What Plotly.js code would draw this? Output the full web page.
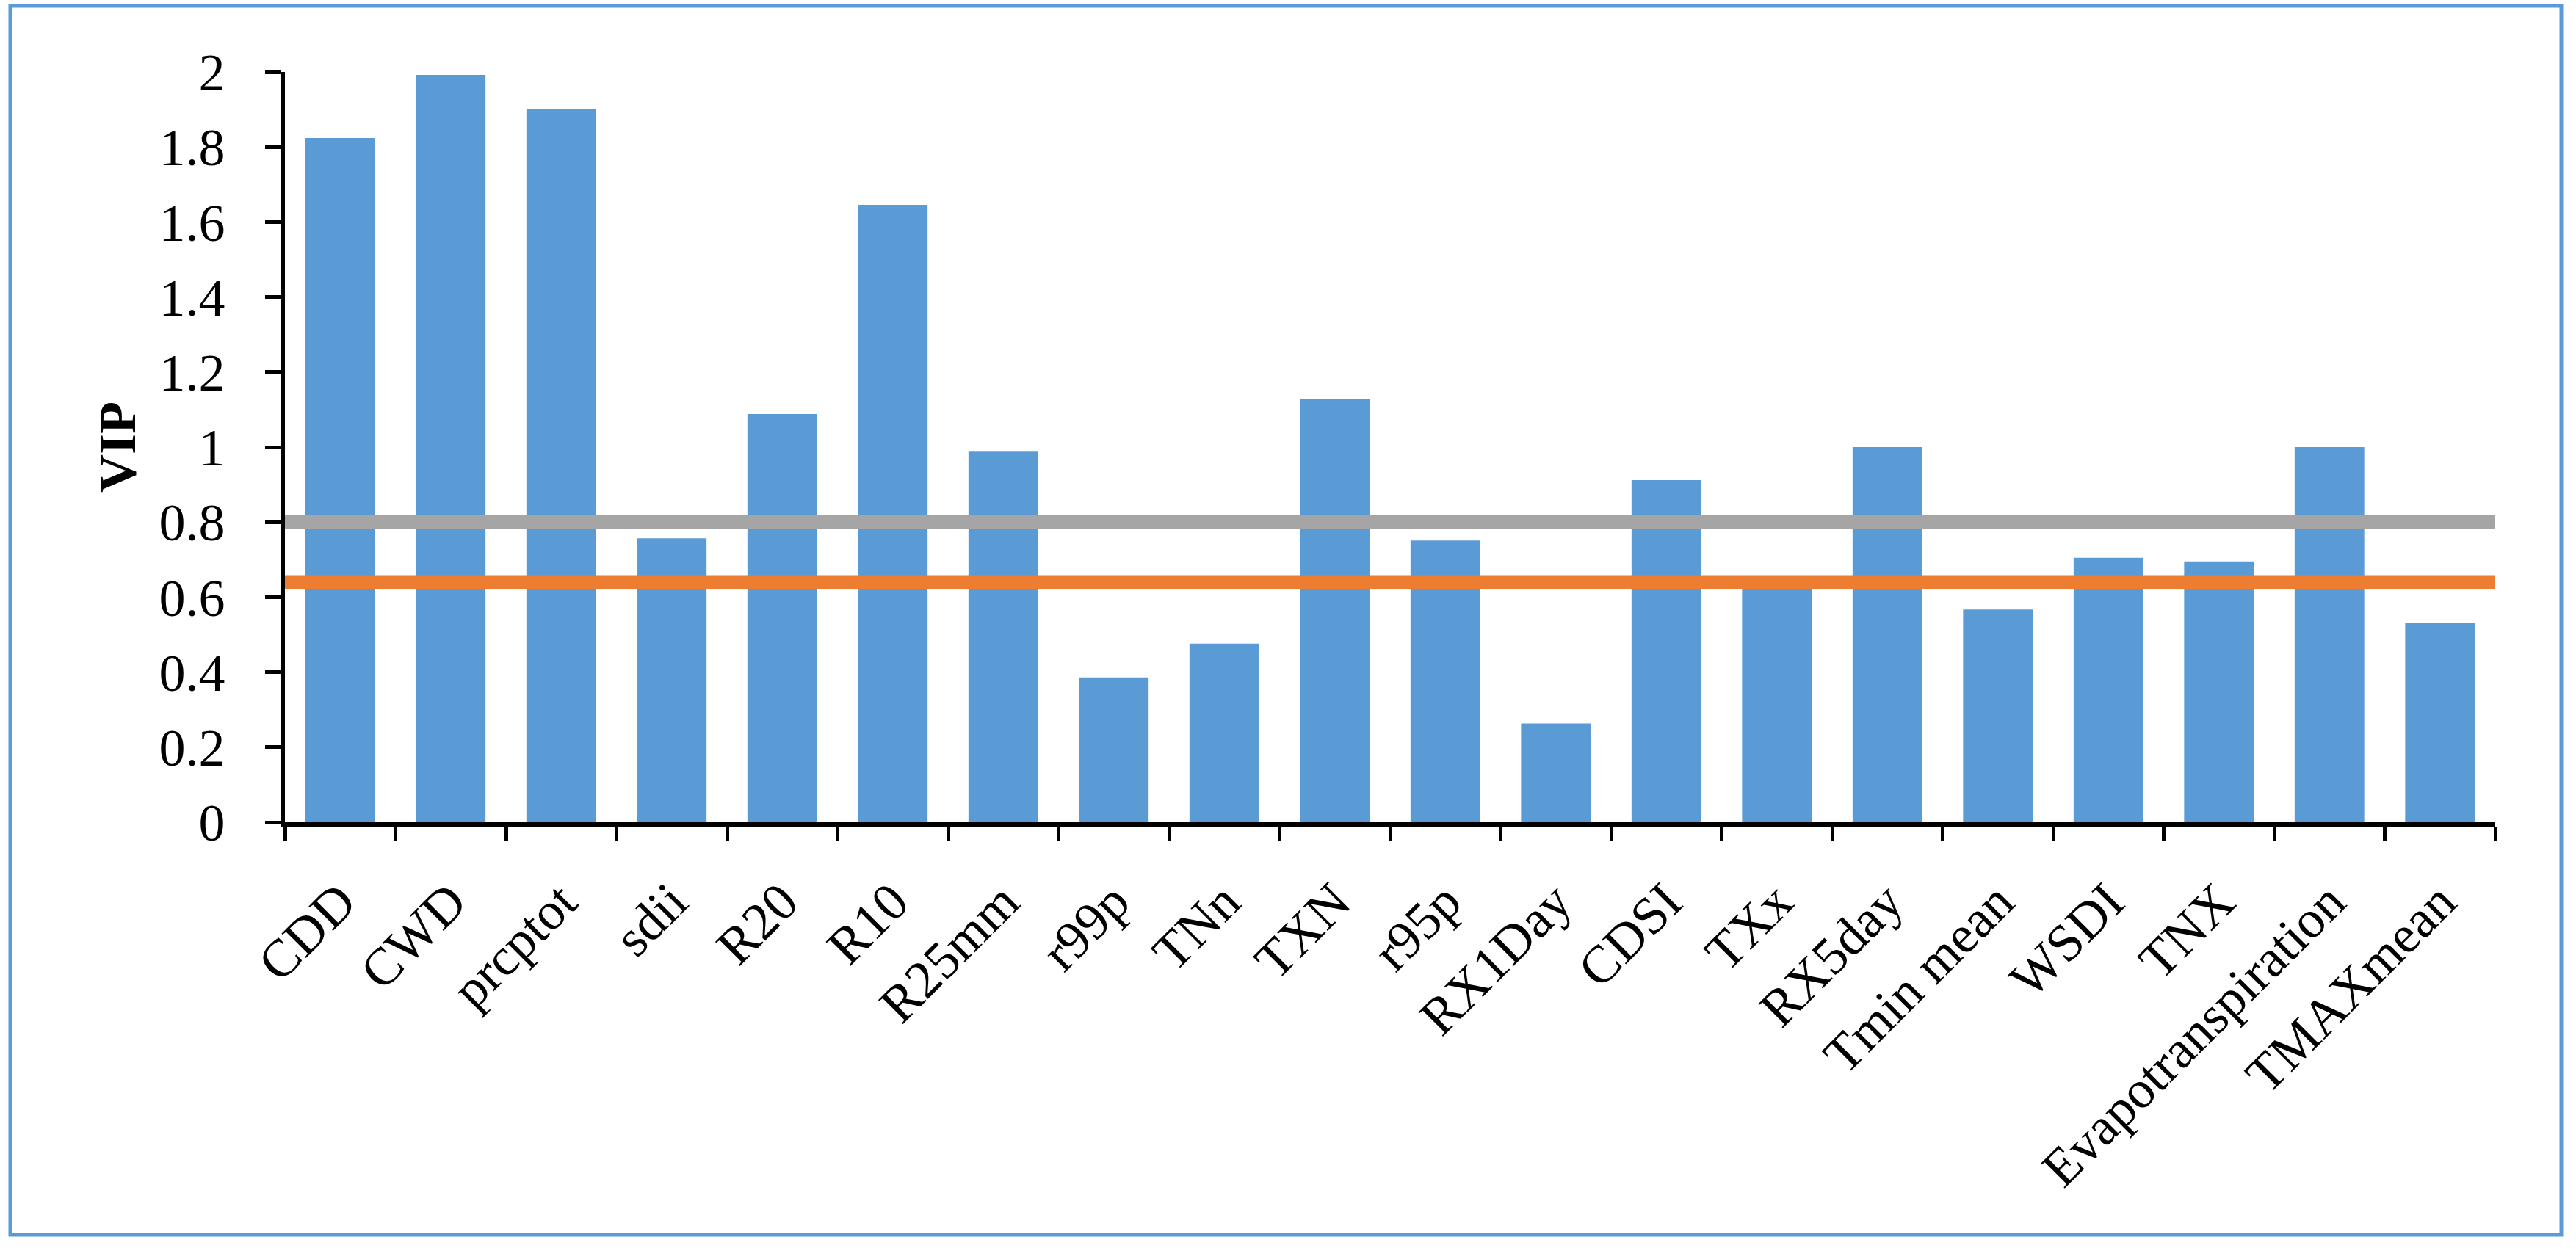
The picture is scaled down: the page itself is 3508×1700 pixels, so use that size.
<!DOCTYPE html>
<html>
<head>
<meta charset="utf-8">
<script src="https://cdn.plot.ly/plotly-3.0.1.min.js"></script>
<style>html,body{margin:0;padding:0;background:#fff;}#chart{width:3508px;height:1700px;}</style>
</head>
<body>
<div id="chart"></div>
<script>
const categories = ["CDD","CWD","prcptot","sdii","R20","R10","R25mm","r99p","TNn","TXN","r95p","RX1Day","CDSI","TXx","RX5day","Tmin mean","WSDI","TNX","Evapotranspiration","TMAXmean"];
const vipValues = [1.824,1.992,1.902,0.757,1.088,1.646,0.988,0.386,0.476,1.127,0.751,0.263,0.912,0.625,1.0,0.567,0.705,0.695,1.0,0.531];
const thresholdValues = [0.8, 0.64];
const thresholdColors = ["#A5A5A5", "#ED7D31"];
const yTickValues = [0,0.2,0.4,0.6,0.8,1,1.2,1.4,1.6,1.8,2];
const yTickLabels = ["0","0.2","0.4","0.6","0.8","1","1.2","1.4","1.6","1.8","2"];

const W = 3508, H = 1700;
const M = {l: 388, r: 110, t: 98, b: 580};
const pw = W - M.l - M.r, ph = H - M.t - M.b;
const px = v => (v - M.l) / pw;
const py = v => (H - M.b - v) / ph;

const font = "Liberation Serif, Times New Roman, serif";

const shapes = thresholdValues.map((v, i) => ({
  type: "line", xref: "x domain", yref: "y",
  x0: 0, x1: 1, y0: v, y1: v,
  line: {color: thresholdColors[i], width: 19},
  layer: "above"
}));
shapes.push({
  type: "rect", xref: "paper", yref: "paper",
  x0: px(14), x1: px(3488), y0: py(1682), y1: py(8),
  line: {color: "#5B9BD5", width: 5}, fillcolor: "rgba(0,0,0,0)", layer: "below"
});

const data = [{
  type: "bar",
  x: categories,
  y: vipValues,
  marker: {color: "#5B9BD5"},
  hoverinfo: "x+y"
}];

const layout = {
  width: W, height: H,
  margin: M,
  paper_bgcolor: "#ffffff",
  plot_bgcolor: "#ffffff",
  showlegend: false,
  bargap: 0.37,
  font: {family: font, size: 72, color: "#000"},
  xaxis: {
    type: "category",
    tickangle: -45,
    showline: true, linecolor: "#000", linewidth: 7,
    ticks: "outside", tickson: "boundaries", ticklen: 19, tickwidth: 5, tickcolor: "#000",
    ticklabelstandoff: 30,
    showgrid: false, zeroline: false,
    tickfont: {family: font, size: 72, color: "#000"},
    automargin: false
  },
  yaxis: {
    range: [0, 2],
    tickvals: yTickValues, ticktext: yTickLabels,
    showline: true, linecolor: "#000", linewidth: 5,
    ticks: "outside", ticklen: 22, tickwidth: 5, tickcolor: "#000",
    ticklabelstandoff: 40,
    showgrid: false, zeroline: false,
    tickfont: {family: font, size: 72, color: "#000"},
    title: {text: "VIP", font: {family: font, size: 72, color: "#000", weight: "bold"}, standoff: 10},
    automargin: false
  },
  shapes: shapes
};

Plotly.newPlot("chart", data, layout, {displayModeBar: false, staticPlot: true});
</script>
</body>
</html>
